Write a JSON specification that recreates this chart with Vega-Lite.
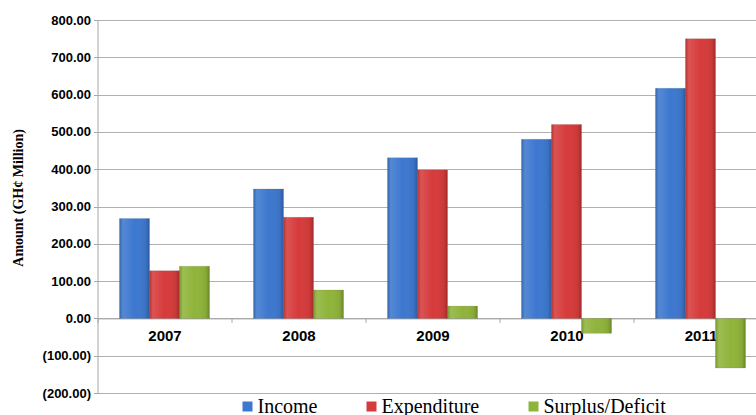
{
  "$schema": "https://vega.github.io/schema/vega-lite/v6.json",
  "autosize": {"type": "none"},
  "padding": {"left": 97.5, "top": 20, "right": 0, "bottom": 22},
  "width": 658.5,
  "height": 373,
  "background": "white",
  "config": {
    "view": {"stroke": null},
    "axis": {"domainColor": "#a6a6a6", "tickColor": "#a6a6a6", "gridColor": "#b0b0b0", "labelColor": "#000000", "titleColor": "#000000"}
  },
  "data": {
    "values": [
      {"Year": "2007", "Type": "Income", "Value": 268},
      {"Year": "2007", "Type": "Expenditure", "Value": 128},
      {"Year": "2007", "Type": "Surplus/Deficit", "Value": 140},
      {"Year": "2008", "Type": "Income", "Value": 347},
      {"Year": "2008", "Type": "Expenditure", "Value": 271},
      {"Year": "2008", "Type": "Surplus/Deficit", "Value": 76},
      {"Year": "2009", "Type": "Income", "Value": 431},
      {"Year": "2009", "Type": "Expenditure", "Value": 398},
      {"Year": "2009", "Type": "Surplus/Deficit", "Value": 33},
      {"Year": "2010", "Type": "Income", "Value": 480},
      {"Year": "2010", "Type": "Expenditure", "Value": 520},
      {"Year": "2010", "Type": "Surplus/Deficit", "Value": -40},
      {"Year": "2011", "Type": "Income", "Value": 617},
      {"Year": "2011", "Type": "Expenditure", "Value": 750},
      {"Year": "2011", "Type": "Surplus/Deficit", "Value": -133}
    ]
  },
  "encoding": {
    "x": {
      "field": "Year", "type": "nominal",
      "scale": {"range": [0, 670], "paddingInner": 0, "paddingOuter": 0},
      "axis": {
        "title": null, "orient": "bottom", "offset": -74.6, "labelAngle": 0,
        "tickBand": "extent", "tickSize": 4, "labelPadding": 6,
        "labelFont": "Liberation Sans", "labelFontWeight": "bold", "labelFontSize": 15
      }
    },
    "xOffset": {
      "field": "Type", "type": "nominal",
      "sort": ["Income", "Expenditure", "Surplus/Deficit"],
      "scale": {"paddingInner": 0, "paddingOuter": 0.733}
    },
    "y": {
      "field": "Value", "type": "quantitative",
      "scale": {"domain": [-200, 800], "nice": false, "zero": false},
      "axis": {
        "values": [-200, -100, 0, 100, 200, 300, 400, 500, 600, 700, 800],
        "grid": true, "tickSize": 4, "labelPadding": 3,
        "labelFont": "Liberation Sans", "labelFontWeight": "bold", "labelFontSize": 13,
        "labelExpr": "datum.value < 0 ? '(' + format(-datum.value, '.2f') + ')' : format(datum.value, '.2f') + '\u00a0'",
        "title": "Amount (GH¢ Million)",
        "titleFont": "Liberation Serif", "titleFontWeight": "bold", "titleFontSize": 14,
        "titleX": -79.5, "titleY": 177.4, "titleAngle": -90,
        "titleBaseline": "middle", "titleAlign": "center"
      }
    }
  },
  "layer": [
    {
      "mark": {"type": "bar", "stroke": "#5a5a5a", "strokeWidth": 0.3, "strokeOpacity": 0.5},
      "encoding": {
        "color": {
          "field": "Type", "type": "nominal",
          "sort": ["Income", "Expenditure", "Surplus/Deficit"],
          "scale": {"domain": ["Income", "Expenditure", "Surplus/Deficit"], "range": ["#3d78cf", "#d63b3b", "#8fb43a"]},
          "legend": {
            "title": null, "orient": "none", "direction": "horizontal",
            "legendX": 140, "legendY": 376.5, "padding": 0,
            "symbolType": "square", "symbolSize": 100, "symbolStrokeWidth": 0,
            "labelFont": "Liberation Serif", "labelFontSize": 20, "labelColor": "#000000",
            "labelOffset": 0, "columnPadding": 44, "labelLimit": 300
          }
        }
      }
    },
    {
      "mark": {
        "type": "bar",
        "fill": {
          "gradient": "linear", "x1": 0, "y1": 0, "x2": 1, "y2": 0,
          "stops": [
            {"offset": 0, "color": "rgba(0,0,0,0.18)"},
            {"offset": 0.12, "color": "rgba(255,255,255,0.12)"},
            {"offset": 0.5, "color": "rgba(255,255,255,0.0)"},
            {"offset": 0.88, "color": "rgba(0,0,0,0.06)"},
            {"offset": 1, "color": "rgba(0,0,0,0.25)"}
          ]
        }
      },
      "encoding": {}
    }
  ]
}
